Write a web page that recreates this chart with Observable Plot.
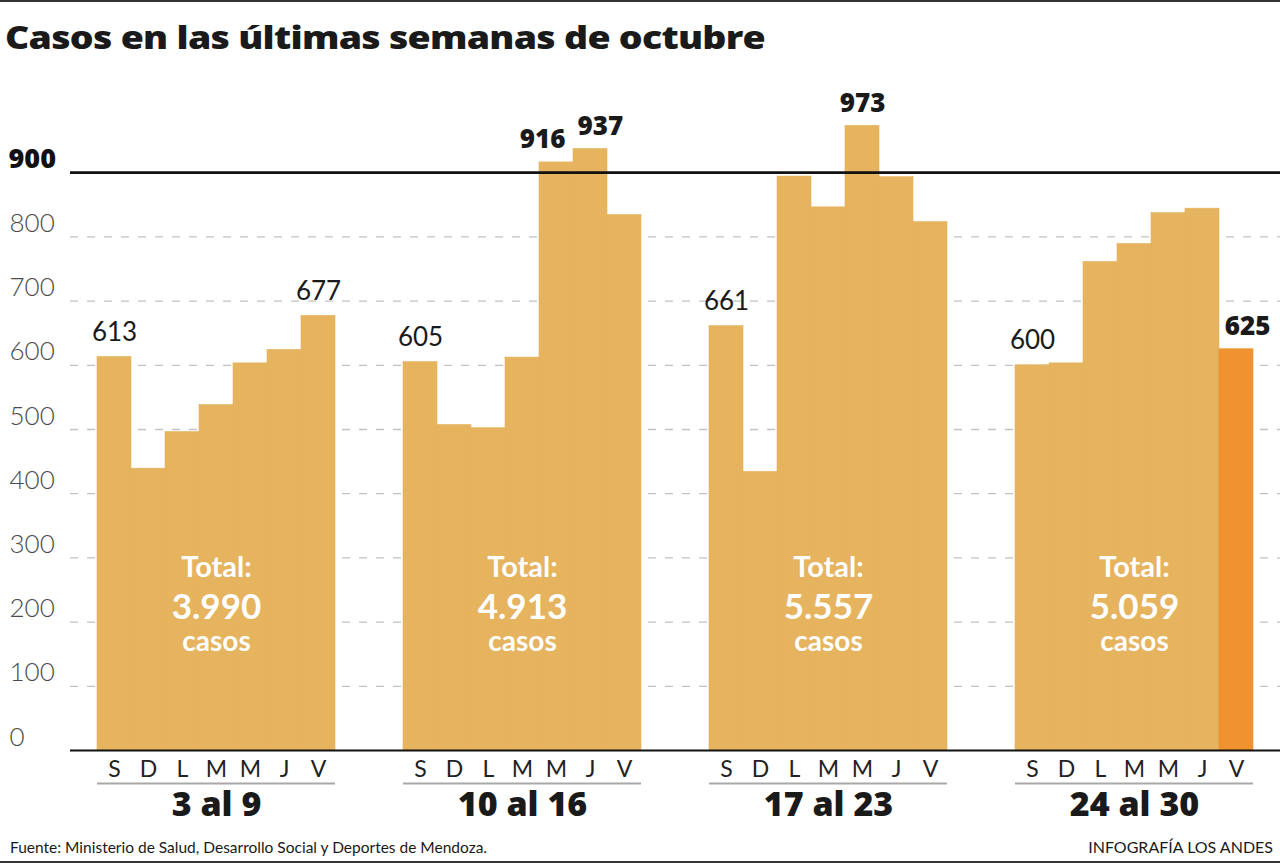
<!DOCTYPE html>
<html>
<head>
<meta charset="utf-8">
<script src="https://cdn.jsdelivr.net/npm/d3@7"></script>
<script src="https://cdn.jsdelivr.net/npm/@observablehq/plot@0.6"></script>
<style>
  html, body { margin: 0; padding: 0; background: #fff; }
  body { width: 1280px; height: 864px; position: relative; overflow: hidden; font-family: Lato, "Noto Sans", sans-serif; }
  .topline { position: absolute; left: 0; top: 0; width: 1280px; height: 2px; background: #333; }
  .bottomline { position: absolute; left: 0; top: 861px; width: 1280px; height: 2px; background: #333; }
  h1 { position: absolute; left: 5px; top: 22px; margin: 0; font-family: "Open Sans", Lato, sans-serif; font-size: 31px; line-height: 1; font-weight: 800; color: #1a1a1a; letter-spacing: -0.6px; white-space: nowrap; transform-origin: 0 0; }
  #chart { position: absolute; left: 0; top: 80px; }
  .source { position: absolute; left: 10px; top: 839px; font-size: 16px; line-height: 1; color: #1a1a1a; white-space: nowrap; transform-origin: 0 0; }
  .credit { position: absolute; right: 7px; top: 839px; font-size: 16px; line-height: 1; color: #1a1a1a; white-space: nowrap; }
</style>
</head>
<body>
<div class="topline"></div>
<h1 id="title">Casos en las últimas semanas de octubre</h1>
<div id="chart"></div>
<div class="source" id="source">Fuente: Ministerio de Salud, Desarrollo Social y Deportes de Mendoza.</div>
<div class="credit">INFOGRAFÍA LOS ANDES</div>
<div class="bottomline"></div>
<script>
// ---- data ----
const weeks = ["3 al 9", "10 al 16", "17 al 23", "24 al 30"];
const days = ["S", "D", "L", "M", "M", "J", "V"];
const week1 = [613, 439, 496, 538, 603, 624, 677];
const week2 = [605, 507, 502, 612, 916, 937, 834];
const week3 = [661, 434, 894, 846, 973, 893, 823];
const week4 = [600, 603, 761, 789, 837, 844, 625];
const totals = ["3.990", "4.913", "5.557", "5.059"];
const labeledDays = [[0, 6], [0, 4, 5], [0, 4], [0, 6]];
const yTicks = [0, 100, 200, 300, 400, 500, 600, 700, 800];
const threshold = 900;
const highlightWeek = 3, highlightDay = 6;

// ---- build tables ----
const series = [week1, week2, week3, week4];
const rows = [];
const domain = [];
const dayOf = {};
series.forEach((vals, wi) => {
  vals.forEach((v, di) => {
    const key = `${wi}-${di}`;
    domain.push(key);
    dayOf[key] = days[di];
    const hl = wi === highlightWeek && di === highlightDay;
    const labeled = labeledDays[wi].includes(di);
    // neighbouring labels push each other apart
    const nextLabeled = labeledDays[wi].includes(di + 1);
    const prevLabeled = labeledDays[wi].includes(di - 1);
    const side = nextLabeled ? "left" : prevLabeled ? "right" : hl ? "edge" : "center";
    rows.push({ key, week: weeks[wi], day: days[di], value: v, highlight: hl, labeled, side, bold: v > threshold || hl });
  });
  if (wi < series.length - 1) domain.push(`gap${wi}a`, `gap${wi}b`);
});
const weekRows = weeks.map((w, wi) => ({ week: w, total: totals[wi], first: `${wi}-0`, mid: `${wi}-3`, last: `${wi}-6` }));

const BAR = "#E6B35F", HL = "#F0922F";
const HEAVY = "'Open Sans', Lato, sans-serif";
const lab = (bold, side) => rows.filter(d => d.labeled && d.bold === bold && d.side === side);
const labelOpts = (bold) => ({
  x: "key", y: "value", text: d => String(d.value), lineAnchor: "bottom",
  dy: bold ? -14 : -16, fontSize: bold ? 26 : 26, fontWeight: bold ? 800 : 400,
  fontFamily: bold ? HEAVY : undefined, letterSpacing: bold ? "-1" : undefined, fill: "#1a1a1a"
});

const chart = Plot.plot({
  width: 1280,
  height: 750,
  marginLeft: 70,
  marginRight: 0,
  marginTop: 28,
  marginBottom: 80,
  style: { fontFamily: "Lato, 'Noto Sans', sans-serif", overflow: "visible", background: "transparent" },
  x: { type: "band", domain, paddingInner: 0, paddingOuter: 0.733, axis: null },
  y: { domain: [0, 1000], axis: null },
  color: { type: "identity" },
  marks: [
    Plot.gridY(yTicks.filter(t => t > 0), { stroke: "#c2c2c2", strokeOpacity: 1, strokeWidth: 1.3, strokeDasharray: "8,9" }),
    Plot.barY(rows, { x: "key", y: "value", fill: d => d.highlight ? HL : BAR, stroke: d => d.highlight ? HL : BAR, strokeWidth: 0.6 }),
    Plot.ruleY([threshold], { stroke: "#111", strokeWidth: 2.7 }),
    Plot.ruleY([0], { stroke: "#111", strokeWidth: 2 }),
    // y labels
    Plot.axisY(yTicks, { label: null, tickSize: 0, tickPadding: 0, textAnchor: "start", dx: -61, lineAnchor: "bottom", dy: -5, fontSize: 26, fontWeight: 300, fill: "#4a4a4a" }),
    Plot.axisY([threshold], { label: null, tickSize: 0, tickPadding: 0, textAnchor: "start", dx: -62, lineAnchor: "bottom", dy: -5, fontSize: 27, fontWeight: 800, fontFamily: HEAVY, letterSpacing: "-0.5", fill: "#111" }),
    // day labels
    Plot.axisX({ label: null, tickSize: 0, tickPadding: 10, tickFormat: k => dayOf[k] ?? "", fontSize: 23, fontWeight: 400, fill: "#222" }),
    // week underline
    Plot.ruleY(weekRows, { x1: "first", x2: "last", y: () => 0, dy: 33, stroke: "#a8a8a8", strokeWidth: 2 }),
    // week labels
    Plot.text(weekRows, { x: "mid", text: "week", frameAnchor: "bottom", lineAnchor: "bottom", dy: 65, fontSize: 34, fontWeight: 800, fontFamily: HEAVY, fill: "#1a1a1a", letterSpacing: "-2" }),
    // value labels
    Plot.text(lab(false, "center"), labelOpts(false)),
    Plot.text(lab(true, "center"), labelOpts(true)),
    Plot.text(lab(true, "left"), { ...labelOpts(true), textAnchor: "end", dx: 9 }),
    Plot.text(lab(true, "right"), { ...labelOpts(true), textAnchor: "start", dx: -13 }),
    Plot.text(lab(true, "edge"), { ...labelOpts(true), dx: 11 }),
    // totals inside bars
    Plot.text(weekRows, { x: "mid", text: () => "Total:", frameAnchor: "bottom", lineAnchor: "bottom", dy: -174, fontSize: 29, fontWeight: 700, fill: "#fff" }),
    Plot.text(weekRows, { x: "mid", text: "total", frameAnchor: "bottom", lineAnchor: "bottom", dy: -132, fontSize: 35, fontWeight: 700, fill: "#fff" }),
    Plot.text(weekRows, { x: "mid", text: () => "casos", frameAnchor: "bottom", lineAnchor: "bottom", dy: -100, fontSize: 28, fontWeight: 700, fill: "#fff" })
  ]
});
document.getElementById("chart").appendChild(chart);

// fit title and source to the reference widths
function fit(id, target) {
  const el = document.getElementById(id);
  const w = el.getBoundingClientRect().width;
  if (w > 0) el.style.transform = `scaleX(${target / w})`;
}
fit("title", 760);
fit("source", 477);
</script>
</body>
</html>
